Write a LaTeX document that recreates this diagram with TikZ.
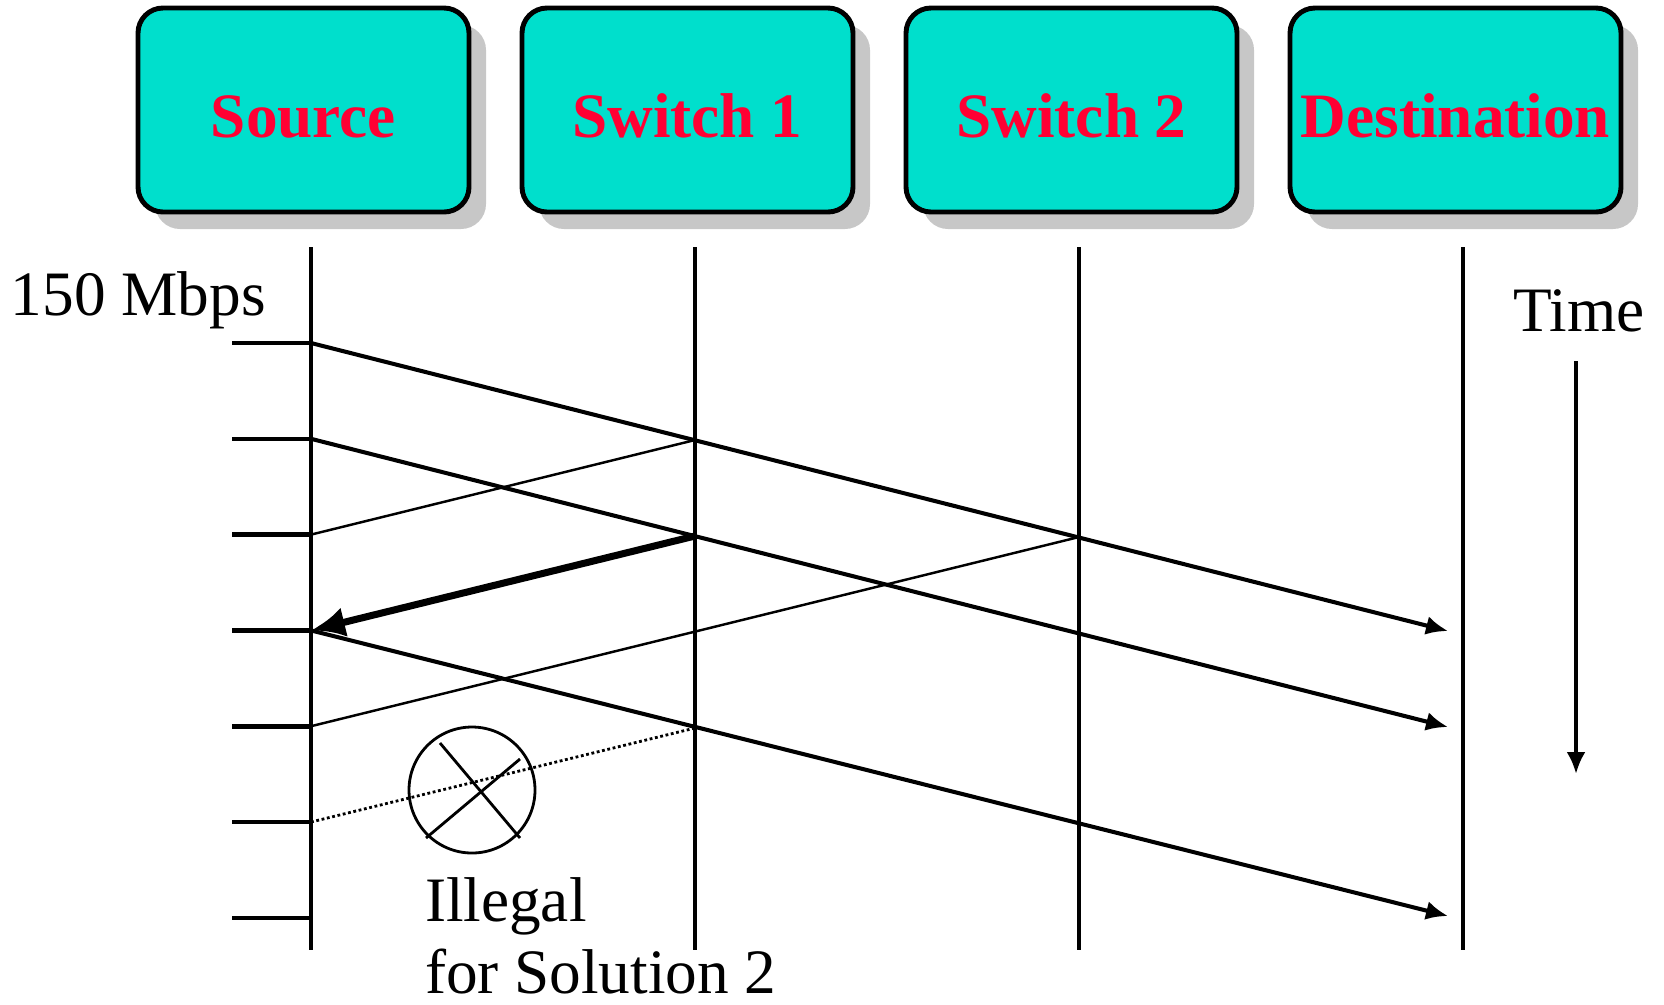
\documentclass[tikz,border=0pt]{standalone}
\usepackage{fontspec}
\setmainfont{Liberation Serif}
\usetikzlibrary{shadows,arrows.meta}
\definecolor{boxcyan}{RGB}{0,223,204}
\definecolor{namered}{RGB}{255,0,51}

\begin{document}
\begin{tikzpicture}[
    every node/.style = {inner sep=0mm, outer sep=0mm,
                         font=\fontsize{18}{21}\selectfont, text=black},
       station/.style = {draw, line width=1.4pt, rounded corners=2.5mm,
                         fill=boxcyan, minimum width=33.1mm, minimum height=20.4mm,
                         text height=5.4mm, text depth=0mm,
                         font=\fontsize{18}{21}\selectfont\bfseries, text=namered,
                         drop shadow={shadow xshift=1.7mm, shadow yshift=-1.7mm,
                                      fill=black!22, opacity=1}},
          life/.style = {line width=1.1pt},
          tick/.style = {line width=1.3pt},
          cell/.style = {line width=1.15pt, -{Latex[length=2.2mm,width=1.9mm]}},
          back/.style = {line width=0.7pt},
    ]
  \useasboundingbox (0,0) rectangle (16.64,-10.04);
  % stations
  \node [station] (src) at (3.035,-1.10)  {Source};
  \node [station] (swa) at (6.875,-1.10)  {Switch 1};
  \node [station] (swb) at (10.715,-1.10) {Switch 2};
  \node [station] (dst) at (14.555,-1.10) {Destination};
  % lifelines
  \foreach \x in {3.11, 6.95, 10.79, 14.63}
    \draw [life] (\x,-2.47) -- (\x,-9.50);
  % cell slots at the source
  \foreach \i in {1,...,7} {
    \coordinate (t\i) at (3.11,{-3.43-0.958*(\i-1)});
    \draw [tick] (t\i) -- ++(-0.79,0);
  }
  % points on the switches and the destination
  \coordinate (p1) at (6.95,-4.40);
  \coordinate (p2) at (6.95,-5.36);
  \coordinate (p3) at (6.95,-7.28);
  \coordinate (q1) at (10.79,-5.37);
  \coordinate (d1) at (14.48,-6.31);
  \coordinate (d2) at (14.48,-7.27);
  \coordinate (d3) at (14.48,-9.16);
  % forward cells
  \draw [cell] (t1) -- (d1);
  \draw [cell] (t2) -- (d2);
  \draw [cell] (t4) -- (d3);
  % backward cells
  \draw [back] (t3) -- (p1);
  \draw [back] (t5) -- (q1);
  \draw [line width=0.8pt, dash pattern=on 0.8pt off 0.75pt] (t6) -- (p3);
  \draw [line width=2pt, -{Latex[length=3.4mm,width=3mm]}] (p2) -- (t4);
  % not allowed
  \node [circle, draw, line width=0.8pt, minimum size=12.6mm] (nogo) at (4.72,-7.90) {};
  \draw [line width=0.8pt] (4.40,-7.43) -- (5.20,-8.38);
  \draw [line width=0.8pt] (4.26,-8.38) -- (5.20,-7.59);
  % labels
  \node [anchor=base west] (rate) at (0.11,-3.15) {150 Mbps};
  \node [anchor=base] (time) at (15.79,-3.31) {Time};
  \node [anchor=base west] (illegal) at (4.25,-9.21) {Illegal};
  \node [anchor=base west] (sol) at (4.25,-9.93) {for Solution 2};
  % time axis
  \coordinate (tbeg) at (15.76,-3.61);
  \coordinate (tend) at (15.76,-7.74);
  \draw [cell] (tbeg) -- (tend);
\end{tikzpicture}
\end{document}
